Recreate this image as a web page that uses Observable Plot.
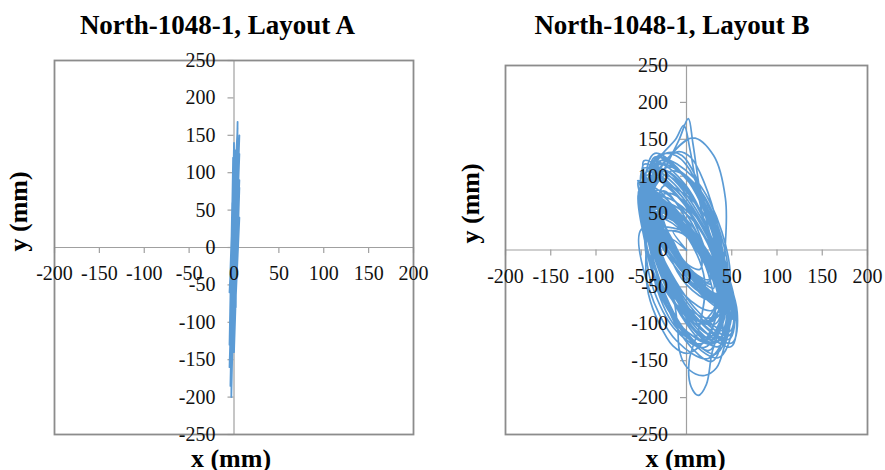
<!DOCTYPE html>
<html><head><meta charset="utf-8">
<script src="https://cdn.jsdelivr.net/npm/d3@7"></script>
<script src="https://cdn.jsdelivr.net/npm/@observablehq/plot@0.6"></script>
<style>
body{margin:0;background:#fff;}
#wrap{position:relative;width:885px;height:470px;overflow:hidden;background:#fff;}
#wrap svg{position:absolute;top:0;}
</style></head><body><div id="wrap"></div>
<script>
const titles = ["North-1048-1, Layout A", "North-1048-1, Layout B"];
const xLabel = "x (mm)";
const yLabel = "y (mm)";
const xTicks = [-200, -150, -100, -50, 0, 50, 100, 150, 200];
const yTicks = [-250, -200, -150, -100, -50, 0, 50, 100, 150, 200, 250];

// Layout A orbit (x mm, y mm)
const orbitA = [
  [0,0],[-2,-120],[5,100],[-4,-90],[-1,120],[0,-140],[6,80],[-3,-60],[2,130],[-5,-160],
  [6,150],[-1,-100],[-1,110],[-3,-200],[4,168],[2,-80],[-2,60],[-5,-130],[6,90],[1,-50],
  [0,140],[-4,-110],[5,70],[-3,-40],[-2,30],[-2,-150],[5,145],[2,-70],[0,100],[-3,-170],
  [6,125],[-4,-30],[-1,75],[0,-120],[6,40],[-5,-60],[4,160],[-4,-185],[1,110],[-2,-90],
  [3,120],[-3,-140],[5,60],[0,0]
];

// Layout B orbit (x mm, y mm)
const orbitB = [
  [0,0],
  [-15,26],[-4,22],[9,5],[17,-15],[15,-26],[4,-22],[-9,-5],[-17,15],
  [-25,43],[-8,36],[13,8],[27,-25],[25,-43],[8,-36],[-13,-8],[-27,25],
  [-35,61],[-12,50],[17,10],[37,-36],[35,-61],[12,-50],[-17,-10],[-37,36],
  [-40,69],[-19,54],[13,8],[37,-44],[40,-69],[19,-54],[-13,-8],[-37,44],
  [-30,116],[-1,88],[29,8],[42,-77],[30,-116],[1,-88],[-29,-8],[-42,77],
  [-47,82],[-24,63],[13,8],[43,-53],[47,-82],[24,-63],[-13,-8],[-43,53],
  [-28,72],[3,50],[31,-16],[39,-87],[22,-122],[-9,-100],[-37,-34],[-45,37],
  [-30,52],[-15,40],[9,5],[27,-33],[30,-52],[15,-40],[-9,-5],[-27,33],
  [-40,70],[-22,55],[7,11],[31,-37],[34,-60],[16,-45],[-13,-1],[-37,47],
  [-35,95],[-20,125],[7,152],[30,128],[43,70],[43,10],[38,-40],[28,-85],[10,-100],[-10,-70],[-30,-10],[-45,50],
  [-48,84],[-27,62],[11,2],[43,-61],[52,-90],[31,-68],[-7,-8],[-39,55],
  [-22,112],[9,90],[37,24],[45,-47],[28,-82],[-3,-60],[-31,6],[-39,77],
  [-39,68],[-16,52],[19,3],[44,-52],[45,-80],[22,-64],[-13,-15],[-38,40],
  [-47,116],[-14,90],[28,11],[53,-74],[47,-116],[14,-90],[-28,-11],[-53,74],
  [-47,82],[-26,63],[8,10],[37,-47],[43,-74],[22,-55],[-12,-2],[-41,55],
  [-27,47],[0,27],[24,-32],[31,-96],[17,-127],[-10,-107],[-34,-47],[-41,16],
  [-50,86],[-29,67],[5,14],[34,-43],[40,-70],[19,-51],[-15,2],[-44,59],
  [-30,67],[5,43],[36,-30],[44,-108],[24,-147],[-11,-123],[-42,-50],[-50,28],
  [-15,30],[-2,24],[15,1],[26,-25],[25,-40],[12,-34],[-5,-11],[-16,15],
  [-52,91],[-30,69],[10,6],[44,-60],[52,-91],[30,-69],[-10,-6],[-44,60],
  [-48,95],[-40,115],[-28,130],[-12,128],[0,115],[15,80],[30,20],[42,-45],[35,-90],[10,-95],[-20,-50],[-40,20],
  [-45,78],[-22,59],[15,4],[45,-57],[49,-86],[26,-67],[-11,-12],[-41,49],
  [-40,70],[-20,120],[-8,150],[2,178],[7,145],[15,80],[28,10],[40,-55],[32,-100],[5,-90],[-20,-40],[-40,30],
  [-33,57],[-15,42],[14,-2],[38,-50],[41,-73],[23,-58],[-6,-14],[-30,34],
  [-25,87],[10,63],[41,-10],[49,-88],[29,-127],[-6,-103],[-37,-30],[-45,48],
  [-35,61],[-14,46],[18,0],[42,-52],[45,-77],[24,-62],[-8,-16],[-32,36],
  [-51,89],[-30,67],[8,7],[40,-56],[49,-85],[28,-63],[-10,-3],[-42,60],
  [-32,126],[1,95],[34,9],[47,-83],[32,-126],[-1,-95],[-34,-9],[-47,83],
  [-46,82],[-23,66],[12,17],[37,-38],[38,-66],[15,-50],[-20,-1],[-45,54],
  [-17,107],[10,87],[34,27],[41,-36],[27,-67],[0,-47],[-24,12],[-31,76],
  [-43,76],[-20,57],[17,2],[47,-59],[51,-88],[28,-69],[-9,-14],[-39,47],
  [-24,42],[-9,30],[15,-5],[33,-43],[36,-62],[21,-50],[-3,-15],[-21,23],
  [-30,60],[0,20],[20,-40],[15,-100],[3,-150],[5,-185],[13,-197],[22,-182],[28,-140],[38,-95],[30,-40],[0,30],[-30,80],
  [-54,94],[-32,72],[8,9],[42,-57],[50,-88],[28,-66],[-12,-3],[-46,63],
  [-32,81],[-3,53],[27,-27],[40,-112],[28,-151],[-1,-123],[-31,-43],[-44,42],
  [-53,93],[-32,71],[6,11],[38,-52],[47,-81],[26,-59],[-12,1],[-44,64],
  [-27,108],[2,80],[32,0],[45,-85],[33,-124],[4,-96],[-26,-16],[-39,69],
  [-44,106],[-11,80],[31,1],[56,-84],[50,-126],[17,-100],[-25,-21],[-50,64],
  [-45,79],[-24,64],[8,18],[32,-34],[35,-59],[14,-44],[-18,2],[-42,54],
  [-25,101],[4,73],[34,-7],[47,-92],[35,-131],[6,-103],[-24,-23],[-37,62],
  [-40,68],[-19,49],[15,-4],[44,-61],[50,-88],[29,-69],[-5,-16],[-34,41],
  [-45,85],[-30,125],[-12,150],[-3,169],[4,135],[12,80],[25,10],[35,-50],[25,-95],[0,-90],[-25,-40],[-42,25],
  [-45,101],[-12,75],[30,-4],[55,-89],[49,-131],[16,-105],[-26,-26],[-51,59],
  [-35,56],[-12,45],[17,5],[37,-41],[35,-66],[12,-55],[-17,-15],[-37,31],
  [-45,78],[-24,59],[10,6],[39,-51],[45,-78],[24,-59],[-10,-6],[-39,51],
  [-31,117],[4,93],[35,20],[43,-58],[23,-97],[-12,-73],[-43,0],[-51,78],
  [-47,111],[-14,85],[28,6],[53,-79],[47,-121],[14,-95],[-28,-16],[-53,69],
  [-35,96],[-6,68],[24,-12],[37,-97],[25,-136],[-4,-108],[-34,-28],[-47,57],
  [-45,60],[-30,110],[-10,133],[5,125],[20,90],[35,30],[45,-40],[50,-90],[40,-120],[20,-125],[0,-100],[-25,-40],
  [-50,88],[-27,69],[10,14],[40,-47],[44,-76],[21,-57],[-16,-2],[-46,59],
  [-50,89],[-28,67],[12,4],[46,-62],[54,-93],[32,-71],[-8,-8],[-42,58],
  [-32,111],[1,80],[34,-6],[47,-98],[32,-141],[-1,-110],[-34,-24],[-47,68],
  [-37,65],[-19,50],[10,6],[34,-42],[37,-65],[19,-50],[-10,-6],[-34,42],
  [-40,40],[-20,-30],[-10,-100],[-8,-135],[-2,-155],[10,-168],[20,-170],[33,-160],[42,-130],[48,-100],[40,-50],[10,20],[-25,80],
  [-36,62],[-13,46],[22,-3],[47,-58],[48,-86],[25,-70],[-10,-21],[-35,34],
  [-40,50],[-45,-20],[-42,-60],[-30,-100],[-15,-130],[0,-140],[15,-130],[30,-100],[40,-50],[30,10],[0,60],[-30,95],
  [-47,90],[-24,71],[13,16],[43,-45],[47,-74],[24,-55],[-13,0],[-43,61],
  [-30,62],[1,40],[29,-26],[37,-97],[20,-132],[-11,-110],[-39,-44],[-47,27],
  [-47,81],[-26,59],[12,-1],[44,-64],[53,-93],[32,-71],[-6,-11],[-38,52],
  [-22,77],[5,57],[29,-2],[36,-66],[22,-97],[-5,-77],[-29,-17],[-36,46],
  [-27,122],[8,98],[39,25],[47,-53],[27,-92],[-8,-68],[-39,5],[-47,83],
  [-35,131],[-2,100],[31,14],[44,-78],[29,-121],[-4,-90],[-37,-4],[-50,88],
  [-34,58],[-19,46],[5,11],[23,-27],[26,-46],[11,-34],[-13,1],[-31,39],
  [-47,121],[-14,95],[28,16],[53,-69],[47,-111],[14,-85],[-28,-6],[-53,79],
  [-45,90],[-35,120],[-20,132],[-5,128],[10,100],[25,40],[38,-30],[40,-80],[20,-100],[-10,-60],[-35,10],[-50,70],
  [-45,75],[-24,56],[10,3],[39,-54],[45,-81],[24,-62],[-10,-9],[-39,48],
  [-35,126],[3,93],[39,0],[52,-99],[35,-146],[-3,-113],[-39,-20],[-52,79],
  [-37,66],[-16,51],[16,5],[40,-47],[43,-72],[22,-57],[-10,-11],[-34,41],
  [-40,69],[-19,54],[13,8],[37,-44],[40,-69],[19,-54],[-13,-8],[-37,44],
  [-46,79],[-25,57],[13,-3],[45,-66],[54,-95],[33,-73],[-5,-13],[-37,50],
  [-29,121],[4,90],[37,4],[50,-88],[35,-131],[2,-100],[-31,-14],[-44,78],
  [-35,61],[-12,50],[17,10],[37,-36],[35,-61],[12,-50],[-17,-10],[-37,36],
  [-25,43],[-8,36],[13,8],[27,-25],[25,-43],[8,-36],[-13,-8],[-27,25],
  [-15,26],[-4,22],[9,5],[17,-15],[15,-26],[4,-22],[-9,-5],[-17,15],
  [0,0]
];

const serif = "'Liberation Serif', 'Times New Roman', Times, serif";
const lineColor = "#5B9BD5";
const axisColor = "#a0a0a0";
const frameColor = "#8c8c8c";

function panel(data, title, cfg) {
  const svg = Plot.plot({
    width: cfg.width, height: 470,
    marginLeft: cfg.ml, marginRight: cfg.mr, marginTop: cfg.mt, marginBottom: cfg.mb,
    style: {fontFamily: serif, background: "transparent", overflow: "visible"},
    x: {domain: [-200, 200], axis: null},
    y: {domain: [-250, 250], axis: null},
    marks: [
      Plot.ruleY([0], {stroke: axisColor, strokeWidth: 1.2}),
      Plot.ruleX([0], {stroke: axisColor, strokeWidth: 1.2}),
      Plot.ruleX(xTicks, {x: d => d, y1: 0, y2: 0, insetBottom: -6, stroke: axisColor, strokeWidth: 1.2}),
      Plot.ruleY(yTicks, {y: d => d, x1: 0, x2: 0, insetLeft: -6, stroke: axisColor, strokeWidth: 1.2}),
      Plot.frame({stroke: frameColor, strokeWidth: 1.8}),
      Plot.line(data, {x: d => d[0], y: d => d[1], stroke: lineColor, strokeWidth: cfg.sw, curve: cfg.curve}),
      Plot.text(yTicks, {x: 0, y: d => d, text: d => String(d), textAnchor: "end", lineAnchor: "middle", dx: -18.5, fontSize: 20, fill: "#111"}),
      Plot.text(xTicks, {x: d => d, y: 0, text: d => String(d), textAnchor: "middle", lineAnchor: "bottom", dy: cfg.xdy, fontSize: 20, fill: "#111"}),
      Plot.text([title], {frameAnchor: "top", text: d => d, lineAnchor: "bottom", dx: cfg.tdx, dy: cfg.tdy, fontSize: 27, fontWeight: "bold", fill: "#000"}),
      Plot.text([xLabel], {frameAnchor: "bottom", text: d => d, lineAnchor: "bottom", dx: cfg.xldx, dy: 32, fontSize: 26, fontWeight: "bold", fill: "#000"}),
      Plot.text([yLabel], {frameAnchor: "left", text: d => d, rotate: -90, lineAnchor: "bottom", dx: cfg.yldx, dy: cfg.yldy, fontSize: 26, fontWeight: "bold", fill: "#000"})
    ]
  });
  svg.style.left = cfg.left + "px";
  return svg;
}

const wrap = document.getElementById("wrap");
wrap.appendChild(panel(orbitA, titles[0], {left: 0, width: 442, ml: 54, mr: 29, mt: 60, mb: 36, xdy: 32, tdx: -16.5, tdy: -27, xldx: -3, yldx: -28, yldy: 4, sw: 1.8, curve: "linear"}));
wrap.appendChild(panel(orbitB, titles[1], {left: 443, width: 442, ml: 62, mr: 18, mt: 65, mb: 36, xdy: 32.5, tdx: -14.5, tdy: -32, xldx: -1, yldx: -27, yldy: -6.5, sw: 1.7, curve: "catmull-rom"}));
</script>
</body></html>
